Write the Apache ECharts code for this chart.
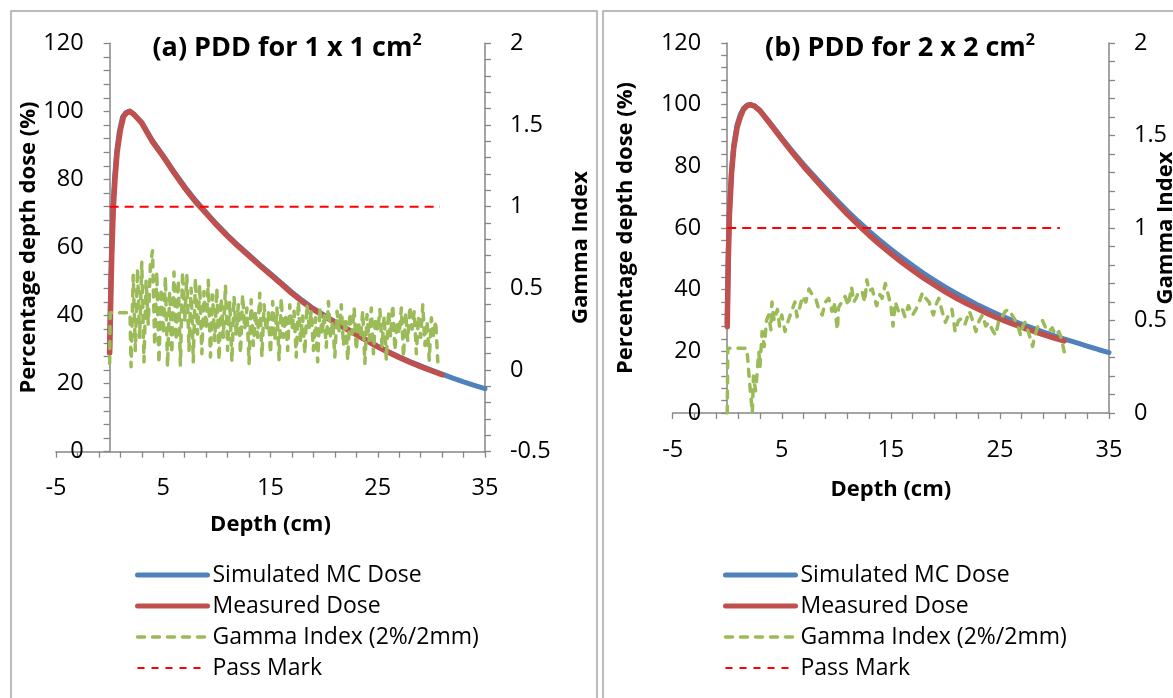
<!DOCTYPE html>
<html>
<head>
<meta charset="utf-8">
<script src="https://cdn.jsdelivr.net/npm/echarts@6.0.0/dist/echarts.min.js"></script>
<style>
  html, body { margin: 0; padding: 0; background: #fff; }
  #chart { width: 1173px; height: 698px; }
</style>
</head>
<body>
<div id="chart"></div>
<script>
// ---- Depth (cm) / dose (%) and gamma values for the two field sizes ----

// Panel (a): 1 x 1 cm2
const simulatedA = [[0,30],[0.05,40],[0.1,49],[0.2,62],[0.3,71],[0.45,80],[0.65,88],[0.9,94],[1.2,98.3],[1.5,99.6],[1.8,100],[2.2,99.3],[3,96.8],[4,91.4],[5,87],[6,82.3],[7,77.9],[8,73.9],[9,70.3],[10,66.8],[11,63.6],[12,60.6],[13,57.8],[14,55],[15,52.3],[16,49.6],[17,46.9],[18,44.4],[19,42.1],[20,40.1],[21,38.2],[22,36.4],[23,34.6],[24,32.8],[25,31],[26,29.4],[27,27.9],[28,26.5],[29,25.2],[30,24],[31,22.8],[32,21.6],[33,20.5],[34,19.5],[35,18.5]];
const measuredA = [[0,29],[0.1,44],[0.2,58],[0.35,72],[0.5,80],[0.7,88],[1,94.5],[1.3,98.5],[1.6,99.6],[1.9,100],[2.3,99],[3,96.5],[4,91],[5,86.7],[6,82],[7,77.5],[8,73.5],[9,70],[10,66.5],[11,63.3],[12,60.3],[13,57.5],[14,54.7],[15,52],[16,49.3],[17,46.5],[18,44],[19,41.8],[20,39.8],[21,38],[22,36.2],[23,34.4],[24,32.6],[25,30.8],[26,29.2],[27,27.7],[28,26.3],[29,25],[30,23.8],[31,22.6]];
const gammaA = [[0,0.04],[0.05,0.35],[1.9,0.35],[2.0,0.02],[2.2,0.58],[2.4,0.12],[2.6,0.62],[2.8,0.2],[3.0,0.66],[3.2,0.05],[3.4,0.55],[3.6,0.28],[3.8,0.64],[4.0,0.73],[4.2,0.15],[4.4,0.6],[4.6,0.04],[4.8,0.5],[5.0,0.22],[5.2,0.57],[5.4,0.02],[5.6,0.48],[5.8,0.1],[6.0,0.6],[6.2,0.18],[6.4,0.55],[6.6,0.03],[6.8,0.6],[7.0,0.3],[7.2,0.58],[7.4,0.12],[7.6,0.5],[7.8,0.05],[8.0,0.56],[8.2,0.22],[8.4,0.52],[8.6,0.1],[8.8,0.48],[9.0,0.25],[9.2,0.55],[9.4,0.08],[9.6,0.46],[9.8,0.18],[10.0,0.5],[10.2,0.06],[10.4,0.44],[10.6,0.2],[10.8,0.52],[11.0,0.12],[11.2,0.42],[11.4,0.05],[11.6,0.45],[11.8,0.22],[12.0,0.4],[12.2,0.1],[12.4,0.46],[12.6,0.25],[12.8,0.38],[13.0,0.04],[13.2,0.43],[13.4,0.15],[13.6,0.36],[13.8,0.2],[14.0,0.47],[14.2,0.08],[14.4,0.4],[14.6,0.24],[14.8,0.35],[15.0,0.1],[15.2,0.42],[15.4,0.18],[15.6,0.38],[15.8,0.06],[16.0,0.44],[16.2,0.2],[16.4,0.34],[16.6,0.12],[16.8,0.4],[17.0,0.25],[17.2,0.36],[17.4,0.08],[17.6,0.42],[17.8,0.18],[18.0,0.33],[18.2,0.1],[18.4,0.4],[18.6,0.26],[18.8,0.36],[19.0,0.12],[19.2,0.32],[19.4,0.05],[19.6,0.38],[19.8,0.22],[20.0,0.34],[20.2,0.14],[20.4,0.42],[20.6,0.2],[20.8,0.3],[21.0,0.08],[21.2,0.36],[21.4,0.24],[21.6,0.4],[21.8,0.15],[22.0,0.32],[22.2,0.06],[22.4,0.35],[22.6,0.22],[22.8,0.38],[23.0,0.12],[23.2,0.3],[23.4,0.2],[23.6,0.36],[23.8,0.04],[24.0,0.34],[24.2,0.18],[24.4,0.38],[24.6,0.1],[24.8,0.32],[25.0,0.24],[25.2,0.37],[25.4,0.14],[25.6,0.33],[25.8,0.06],[26.0,0.36],[26.2,0.2],[26.4,0.4],[26.6,0.12],[26.8,0.3],[27.0,0.22],[27.2,0.38],[27.4,0.08],[27.6,0.35],[27.8,0.18],[28.0,0.39],[28.2,0.25],[28.4,0.36],[28.6,0.1],[28.8,0.33],[29.0,0.2],[29.2,0.4],[29.4,0.15],[29.6,0.3],[29.8,0.06],[30.0,0.32],[30.2,0.2],[30.4,0.3],[30.6,0.05]];
const passA = [[0,1],[30.8,1]];

// Panel (b): 2 x 2 cm2
const simulatedB = [[0,29],[0.05,42],[0.1,53],[0.2,66],[0.4,79],[0.6,87],[0.9,93.5],[1.2,96.8],[1.5,98.8],[1.8,99.8],[2.1,100],[2.5,99.6],[3,98.2],[4,93.8],[5,89.2],[6,84.8],[7,80.6],[8,76.7],[9,72.9],[10,69.2],[11,65.6],[12,62.2],[13,59],[14,56],[15,53.1],[16,50.4],[17,47.8],[18,45.3],[19,43],[20,40.8],[21,38.8],[22,36.9],[23,35],[24,33.3],[25,31.7],[26,30.2],[27,28.8],[28,27.5],[29,26.2],[30,25],[31,23.9],[32,22.8],[33,21.7],[34,20.6],[35,19.6]];
const measuredB = [[0,28],[0.1,50],[0.2,64],[0.4,78],[0.6,86],[0.9,92.5],[1.2,96],[1.5,98.5],[1.8,99.6],[2.1,100],[2.5,99.5],[3,98],[4,93.5],[5,88.8],[6,84.3],[7,80],[8,76],[9,72],[10,68.2],[11,64.5],[12,61],[13,57.7],[14,54.6],[15,51.7],[16,48.9],[17,46.3],[18,43.8],[19,41.5],[20,39.3],[21,37.3],[22,35.4],[23,33.7],[24,32],[25,30.5],[26,29.1],[27,27.8],[28,26.6],[29,25.4],[30,24.3],[30.9,23.4]];
const gammaB = [[0,0],[0.05,0.35],[1.8,0.35],[2.0,0.2],[2.3,0],[2.4,0.2],[2.6,0.12],[2.9,0.33],[3.0,0.25],[3.2,0.44],[3.4,0.36],[3.6,0.5],[3.8,0.53],[4.0,0.45],[4.1,0.6],[4.3,0.5],[4.6,0.56],[4.8,0.47],[5.0,0.53],[5.3,0.44],[5.6,0.5],[5.9,0.55],[6.2,0.6],[6.4,0.52],[6.6,0.56],[6.9,0.63],[7.2,0.6],[7.5,0.67],[7.8,0.64],[8.1,0.62],[8.4,0.56],[8.7,0.53],[9.0,0.6],[9.3,0.62],[9.6,0.55],[9.8,0.6],[10.1,0.45],[10.2,0.57],[10.5,0.6],[10.8,0.63],[11.1,0.58],[11.4,0.68],[11.6,0.6],[11.8,0.62],[12.1,0.66],[12.4,0.65],[12.6,0.6],[12.8,0.72],[13.0,0.66],[13.3,0.67],[13.5,0.62],[13.7,0.58],[14.0,0.64],[14.2,0.62],[14.5,0.7],[14.8,0.63],[15.0,0.58],[15.2,0.47],[15.4,0.6],[15.7,0.55],[16.0,0.57],[16.3,0.52],[16.6,0.58],[17.0,0.53],[17.3,0.56],[17.6,0.6],[17.9,0.65],[18.2,0.62],[18.5,0.6],[18.7,0.56],[18.9,0.53],[19.1,0.58],[19.4,0.62],[19.7,0.55],[20.0,0.49],[20.3,0.53],[20.6,0.56],[20.9,0.44],[21.2,0.5],[21.5,0.51],[21.8,0.48],[22.2,0.55],[22.5,0.5],[22.8,0.44],[23.1,0.5],[23.4,0.53],[23.7,0.47],[24.0,0.49],[24.3,0.45],[24.6,0.42],[24.9,0.5],[25.2,0.52],[25.5,0.55],[25.8,0.56],[26.1,0.53],[26.4,0.5],[26.7,0.46],[26.9,0.42],[27.1,0.47],[27.3,0.49],[27.6,0.44],[28.0,0.36],[28.2,0.42],[28.5,0.47],[28.9,0.5],[29.2,0.46],[29.5,0.44],[29.8,0.46],[30.1,0.42],[30.4,0.44],[30.6,0.41],[30.9,0.33]];
const passB = [[0,1],[30.5,1]];

// Axis ranges and tick labels
const depthAxis = { min: -5, max: 35, step: 10 };
const depthTicks = ['-5', '5', '15', '25', '35'];
const doseAxis = { min: 0, max: 120, step: 20 };
const gammaAxisA = { min: -0.5, max: 2, step: 0.5 };
const gammaAxisB = { min: 0, max: 2, step: 0.5 };
const seriesNames = ['Simulated MC Dose', 'Measured Dose', 'Gamma Index (2%/2mm)', 'Pass Mark'];
const panelTitles = ['(a) PDD for 1 x 1 cm{s|2}', '(b) PDD for 2 x 2 cm{s|2}'];
const xTitle = 'Depth (cm)';
const yTitle = 'Percentage depth dose (%)';
const y2Title = 'Gamma Index';

// ---- Layout & styling ----
const FONT = "'Open Sans', sans-serif";
const AXIS_GREY = '#868686';
const BLUE = '#4F81BD', RED = '#C0504D', GREEN = '#9BBB59', PASS = '#FF0000';
const plotRects = [
  { left: 56, top: 43.3, width: 429, height: 408.4 },
  { left: 672.7, top: 43, width: 436.3, height: 370 }
];

function axisCommon() {
  return {
    type: 'value',
    splitLine: { show: false },
    minorSplitLine: { show: false },
    axisTick: { show: true, length: 6, lineStyle: { color: AXIS_GREY, width: 1.3 } },
    minorTick: { show: true, splitNumber: 5, length: 6, lineStyle: { color: AXIS_GREY, width: 1.3 } },
    axisLabel: { color: '#000', fontSize: 23.5, fontFamily: FONT, hideOverlap: false, showMinLabel: true, showMaxLabel: true },
    nameLocation: 'middle',
    nameTextStyle: { color: '#000', fontSize: 22, fontWeight: 'bold', fontFamily: FONT }
  };
}

// Depth axis: line, ticks and title (its tick labels come from a twin axis below).
function xAxisFor(gi, nameGap) {
  const a = Object.assign(axisCommon(), {
    gridIndex: gi,
    min: depthAxis.min, max: depthAxis.max, interval: depthAxis.step,
    axisLine: { show: true, onZero: false, lineStyle: { color: AXIS_GREY, width: 1.5 } },
    name: xTitle, nameGap: nameGap
  });
  a.axisLabel.show = false;
  return a;
}
// Twin depth axis on an overlay grid of the same size: the major ticks are evenly
// spaced from -5 to 35, so a category axis without boundary gap puts each label on its tick.
function xLabelAxisFor(gi) {
  return {
    type: 'category', gridIndex: gi, data: depthTicks, boundaryGap: false,
    axisLine: { show: false, onZero: false }, axisTick: { show: false },
    splitLine: { show: false },
    axisLabel: { color: '#000', fontSize: 23.5, fontFamily: FONT, margin: 25, interval: 0, hideOverlap: false }
  };
}
// The dose axis crosses the depth axis at depth 0: shift it inward from the grid edge.
function yLeftFor(gi, nameGap) {
  const g = plotRects[gi];
  const shift = (0 - depthAxis.min) / (depthAxis.max - depthAxis.min) * g.width;
  const a = Object.assign(axisCommon(), {
    gridIndex: gi, position: 'left', offset: -shift,
    min: doseAxis.min, max: doseAxis.max, interval: doseAxis.step,
    axisLine: { show: true, onZero: false, lineStyle: { color: AXIS_GREY, width: 1.5 } },
    name: yTitle, nameGap: nameGap, nameRotate: 90
  });
  a.axisLabel.margin = 26;
  return a;
}
function yRightFor(gi, rng, nameGap) {
  const a = Object.assign(axisCommon(), {
    gridIndex: gi, position: 'right',
    min: rng.min, max: rng.max, interval: rng.step,
    axisLine: { show: true, onZero: false, lineStyle: { color: AXIS_GREY, width: 1.5 } },
    name: y2Title, nameGap: nameGap, nameRotate: 90, nameMoveOverlap: false
  });
  a.axisLabel.margin = 25;
  return a;
}
function yHiddenFor(gi) {
  return { type: 'value', gridIndex: gi, show: false, min: doseAxis.min, max: doseAxis.max };
}

function panelSeries(xi, yl, yr, sim, meas, gam, pass) {
  return [
    { name: seriesNames[0], type: 'line', xAxisIndex: xi, yAxisIndex: yl, data: sim, showSymbol: false, symbol: 'none',
      lineStyle: { color: BLUE, width: 5, cap: 'round', join: 'round' }, itemStyle: { color: BLUE }, z: 2 },
    { name: seriesNames[1], type: 'line', xAxisIndex: xi, yAxisIndex: yl, data: meas, showSymbol: false, symbol: 'none',
      lineStyle: { color: RED, width: 5.5, cap: 'round', join: 'round' }, itemStyle: { color: RED }, z: 3 },
    { name: seriesNames[2], type: 'line', xAxisIndex: xi, yAxisIndex: yr, data: gam, showSymbol: false, symbol: 'none',
      lineStyle: { color: GREEN, width: 3.5, type: [7, 8], cap: 'round', join: 'round' }, itemStyle: { color: GREEN }, z: 4 },
    { name: seriesNames[3], type: 'line', xAxisIndex: xi, yAxisIndex: yr, data: pass, showSymbol: false, symbol: 'none',
      lineStyle: { color: PASS, width: 2, type: [9, 6] }, itemStyle: { color: PASS }, z: 5 }
  ];
}

function legendFor(left) {
  return {
    orient: 'vertical', left: left, top: 563, padding: 0,
    itemWidth: 70, itemHeight: 14, itemGap: 7, selectedMode: false,
    itemStyle: { opacity: 0 },
    textStyle: { color: '#000', fontSize: 23, fontFamily: FONT, lineHeight: 24 },
    data: [
      { name: seriesNames[0], lineStyle: { width: 5, cap: 'round' } },
      { name: seriesNames[1], lineStyle: { width: 5, cap: 'round' } },
      { name: seriesNames[2], lineStyle: { width: 3.5, type: [7, 8], cap: 'round' } },
      { name: seriesNames[3], lineStyle: { width: 2, type: [7, 7] } }
    ]
  };
}

function titleFor(text, cx) {
  return {
    text: text, left: cx, top: 32, textAlign: 'center', padding: 0,
    textStyle: {
      color: '#000', fontSize: 27, fontWeight: 'bold', fontFamily: FONT, lineHeight: 32,
      rich: { s: { fontSize: 16, fontWeight: 'bold', fontFamily: FONT, color: '#000', verticalAlign: 'top', lineHeight: 20 } }
    }
  };
}

const gridBase = { containLabel: false, outerBoundsMode: 'none' };

const option = {
  animation: false,
  backgroundColor: '#fff',
  textStyle: { fontFamily: FONT },
  title: [titleFor(panelTitles[0], 287), titleFor(panelTitles[1], 900)],
  graphic: [
    { type: 'rect', silent: true, z: -10, shape: { x: 11, y: 11, width: 586, height: 720 },
      style: { fill: 'none', stroke: '#A5A5A5', lineWidth: 1.5 } },
    { type: 'rect', silent: true, z: -10, shape: { x: 603, y: 11, width: 620, height: 720 },
      style: { fill: 'none', stroke: '#A5A5A5', lineWidth: 1.5 } }
  ],
  // grids 0/1: the two plots; grids 2/3: same rectangles, for the depth tick labels
  grid: plotRects.concat(plotRects).map(g => Object.assign({}, gridBase, g)),
  xAxis: [xAxisFor(0, 62), xAxisFor(1, 66), xLabelAxisFor(2), xLabelAxisFor(3)],
  yAxis: [yLeftFor(0, 66), yRightFor(0, gammaAxisA, 85), yLeftFor(1, 91), yRightFor(1, gammaAxisB, 46),
          yHiddenFor(2), yHiddenFor(3)],
  legend: [legendFor(135), legendFor(723)],
  series: [].concat(
    panelSeries(0, 0, 1, simulatedA, measuredA, gammaA, passA),
    panelSeries(1, 2, 3, simulatedB, measuredB, gammaB, passB)
  )
};

const chart = echarts.init(document.getElementById('chart'), null, { renderer: 'canvas' });
chart.setOption(option);
</script>
</body>
</html>
